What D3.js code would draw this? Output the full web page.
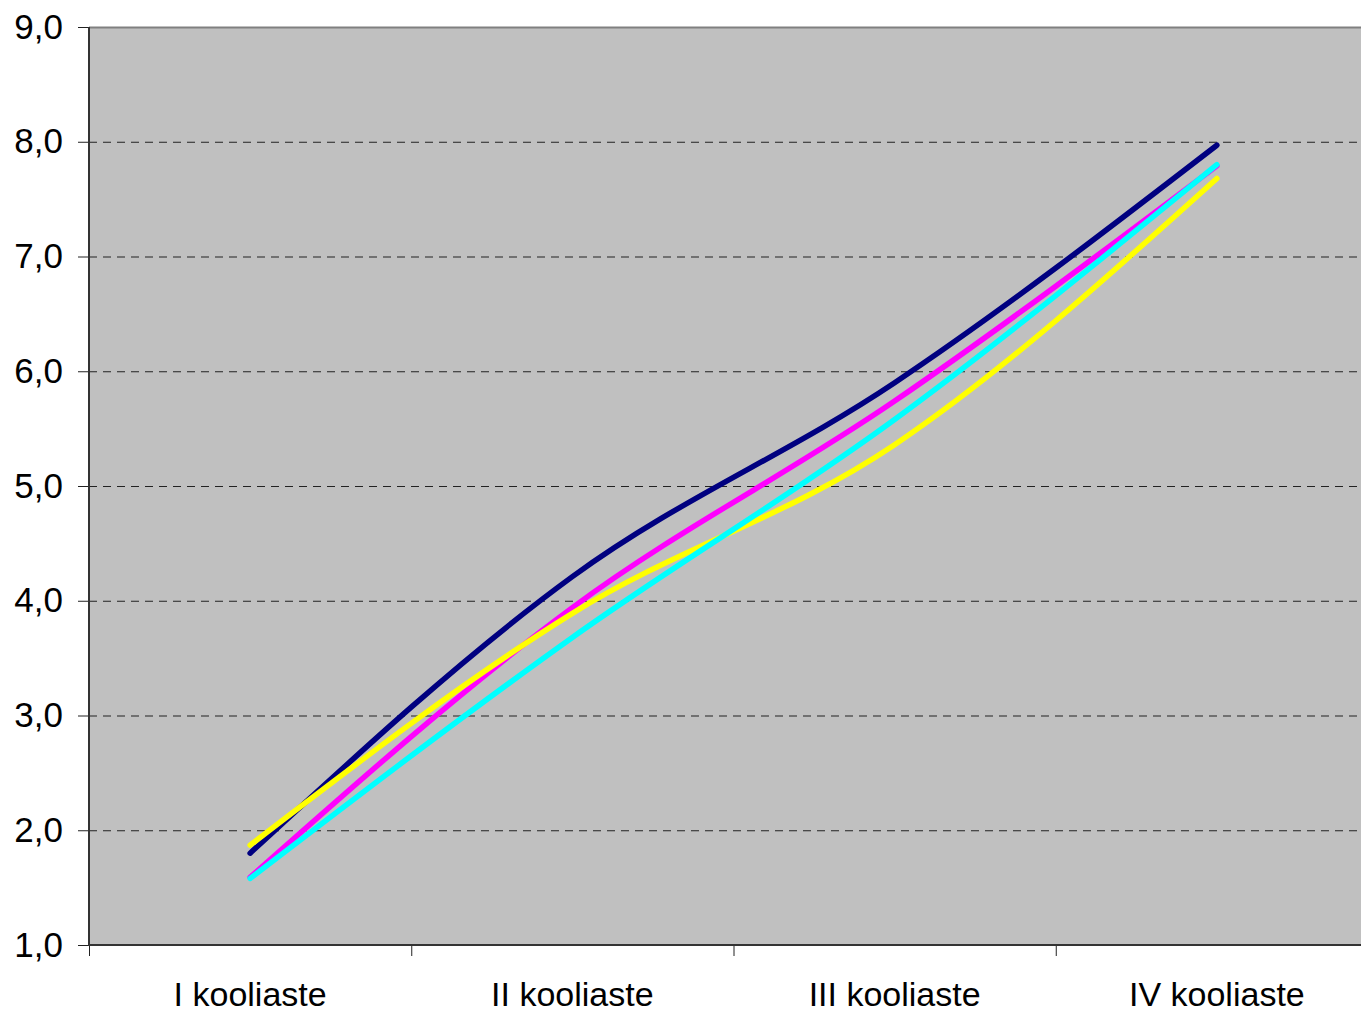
<!DOCTYPE html>
<html>
<head>
<meta charset="utf-8">
<script src="https://cdn.jsdelivr.net/npm/d3@7"></script>
<style>
    body { margin: 0; background: #ffffff; }
    svg { display: block; }
</style>
</head>
<body>
<div id="chart"></div>
<script>

var categories = ["I kooliaste", "II kooliaste", "III kooliaste", "IV kooliaste"];

var seriesNavy = [1.80, 4.21, 5.90, 7.97];
var seriesMagenta = [1.59, 3.94, 5.74, 7.79];
var seriesYellow = [1.87, 3.89, 5.36, 7.68];
var seriesCyan = [1.58, 3.68, 5.58, 7.80];

var yTicks = [1, 2, 3, 4, 5, 6, 7, 8, 9];

// excel draws series in this order, last one on top
var seriesList = [
    { values: seriesNavy, color: "#000080" },
    { values: seriesMagenta, color: "#ff00ff" },
    { values: seriesYellow, color: "#ffff00" },
    { values: seriesCyan, color: "#00ffff" }
];

var Chart = {

    svg: null,

    createCanvas: function (div) {
        var canvasWidth = 1361;
        var canvasHeight = 1013;

        this.svg = d3.select(div).append("svg")
            .attr("width", canvasWidth)
            .attr("height", canvasHeight);

        // plot area is wider than the picture, right side gets cut off
        this.left = 89;
        this.right = 1378;
        this.top = 27;
        this.bottom = 945;

        this.x = d3.scaleBand()
            .domain(categories)
            .range([this.left, this.right])
            .paddingInner(0)
            .paddingOuter(0);

        this.y = d3.scaleLinear()
            .domain([1, 9])
            .range([this.bottom, this.top]);
    },

    drawFrame: function () {
        var me = this;

        this.svg.append("rect")
            .attr("x", this.left)
            .attr("y", this.top)
            .attr("width", this.right - this.left)
            .attr("height", this.bottom - this.top)
            .style("fill", "#c0c0c0");

        // dashed gridlines
        this.svg.append("g").selectAll("line")
            .data(yTicks.slice(1, yTicks.length - 1))
            .enter()
            .append("line")
            .attr("x1", this.left)
            .attr("x2", this.right)
            .attr("y1", function (d) { return me.y(d) + 0.5; })
            .attr("y2", function (d) { return me.y(d) + 0.5; })
            .style("stroke", "#222")
            .style("stroke-width", 1)
            .style("stroke-dasharray", "8,6");

        // top border of plot
        this.svg.append("line")
            .attr("x1", this.left)
            .attr("x2", this.right)
            .attr("y1", this.top + 0.5)
            .attr("y2", this.top + 0.5)
            .style("stroke", "#808080")
            .style("stroke-width", 2);
    },

    drawAxes: function () {
        var me = this;

        var yAxis = d3.axisLeft(this.y)
            .tickValues(yTicks)
            .tickSize(11)
            .tickPadding(15)
            .tickFormat(function (d) { return d3.format(".1f")(d).replace(".", ","); });

        var gy = this.svg.append("g")
            .attr("transform", "translate(" + this.left + ",0)")
            .call(yAxis);

        gy.select(".domain").remove();
        gy.selectAll(".tick line").style("stroke", "#222").style("stroke-width", 1);
        gy.selectAll(".tick text")
            .style("font-family", "Liberation Sans, Arial, sans-serif")
            .style("font-size", "35px")
            .style("fill", "#000");

        this.svg.append("line")
            .attr("x1", this.left)
            .attr("x2", this.left)
            .attr("y1", this.top)
            .attr("y2", this.bottom + 1)
            .style("stroke", "#333")
            .style("stroke-width", 2);

        // x axis: ticks on category boundaries, labels in the middle
        var xBounds = categories.map(function (c) { return me.x(c); });

        this.svg.append("g").selectAll("line")
            .data(xBounds)
            .enter()
            .append("line")
            .attr("x1", function (d) { return d + 0.5; })
            .attr("x2", function (d) { return d + 0.5; })
            .attr("y1", this.bottom)
            .attr("y2", this.bottom + 11)
            .style("stroke", "#222")
            .style("stroke-width", 1);

        this.svg.append("line")
            .attr("x1", this.left)
            .attr("x2", this.right)
            .attr("y1", this.bottom)
            .attr("y2", this.bottom)
            .style("stroke", "#333")
            .style("stroke-width", 2);

        this.svg.append("g").selectAll("text")
            .data(categories)
            .enter()
            .append("text")
            .attr("x", function (d) { return me.x(d) + me.x.bandwidth() / 2; })
            .attr("y", 1006)
            .attr("text-anchor", "middle")
            .style("font-family", "Liberation Sans, Arial, sans-serif")
            .style("font-size", "34px")
            .style("fill", "#000")
            .text(function (d) { return d; });
    },

    addLines: function () {
        var me = this;

        var line = d3.line()
            .x(function (d, i) { return me.x(categories[i]) + me.x.bandwidth() / 2; })
            .y(function (d) { return me.y(d); })
            .curve(d3.curveMonotoneX);

        this.svg.append("g").selectAll("path")
            .data(seriesList)
            .enter()
            .append("path")
            .attr("d", function (d) { return line(d.values); })
            .style("fill", "none")
            .style("stroke", function (d) { return d.color; })
            .style("stroke-width", 5.5)
            .style("stroke-linecap", "round")
            .style("stroke-linejoin", "round");
    }
};

Chart.createCanvas(document.getElementById("chart"));
Chart.drawFrame();
Chart.drawAxes();
Chart.addLines();

</script>
</body>
</html>
